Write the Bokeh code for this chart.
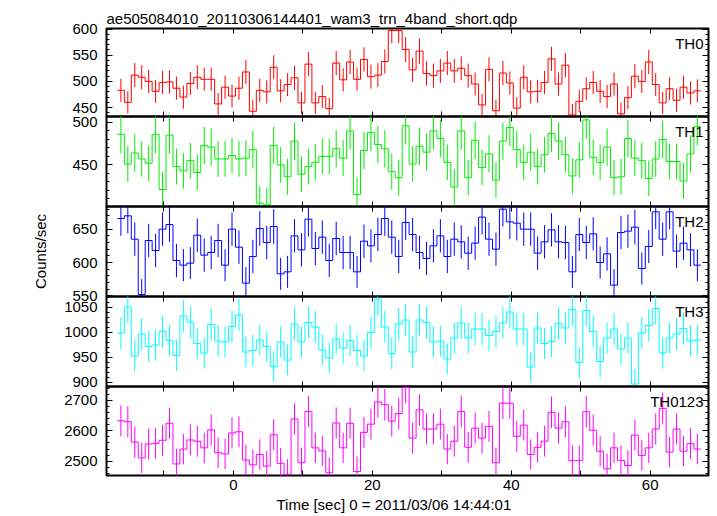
from bokeh.plotting import figure
from bokeh.models import LinearAxis, FixedTicker, Range1d, Label, Title
from bokeh.layouts import column
from bokeh.embed import file_html
from bokeh.resources import INLINE

# ---------------- data ----------------
title_text = "ae505084010_20110306144401_wam3_trn_4band_short.qdp"
x_label_text = "Time [sec] 0 = 2011/03/06 14:44:01"
y_label_text = "Counts/sec"

t_first = -16.2     # centre of first 1-s bin
bin_width = 1.0
n_bins = 84
time = [round(t_first + i * bin_width, 3) for i in range(n_bins)]

th0_rate = [483, 460, 512, 508, 500, 481, 498, 499, 487, 470,
            496, 508, 504, 504, 457, 489, 472, 487, 518, 443,
            483, 480, 527, 482, 494, 507, 459, 533, 459, 471,
            448, 535, 503, 537, 504, 542, 509, 512, 538, 597,
            597, 561, 522, 558, 515, 511, 520, 535, 520, 525,
            511, 495, 455, 523, 444, 516, 497, 449, 508, 480,
            481, 498, 543, 495, 531, 436, 462, 486, 498, 481,
            471, 495, 438, 469, 510, 500, 537, 494, 459, 486,
            464, 489, 478, 482]
th0_err = [22, 21, 23, 23, 22, 22, 22, 22, 22, 22,
           22, 23, 22, 22, 21, 22, 22, 22, 23, 21,
           22, 22, 23, 22, 22, 23, 21, 23, 21, 22,
           21, 23, 22, 23, 22, 23, 23, 23, 23, 24,
           24, 24, 23, 24, 23, 23, 23, 23, 23, 23,
           23, 22, 21, 23, 21, 23, 22, 21, 23, 22,
           22, 22, 23, 22, 23, 21, 21, 22, 22, 22,
           22, 22, 21, 22, 23, 22, 23, 22, 21, 22,
           22, 22, 22, 22]

th1_rate = [486, 451, 464, 457, 452, 486, 421, 485, 448, 443,
            455, 441, 473, 471, 457, 457, 461, 457, 458, 468,
            405, 403, 473, 450, 436, 478, 439, 448, 453, 460,
            460, 469, 458, 490, 415, 467, 488, 474, 469, 442,
            435, 496, 451, 472, 465, 490, 481, 453, 424, 490,
            435, 479, 447, 463, 432, 478, 494, 468, 453, 465,
            448, 462, 487, 478, 462, 437, 456, 503, 459, 453,
            471, 435, 436, 481, 458, 455, 434, 457, 480, 454,
            454, 431, 463, 495]
th1_err = [22, 21, 22, 21, 21, 22, 21, 22, 21, 21,
           21, 21, 22, 22, 21, 21, 21, 21, 21, 22,
           20, 20, 22, 21, 21, 22, 21, 21, 21, 21,
           21, 22, 21, 22, 20, 22, 22, 22, 22, 21,
           21, 22, 21, 22, 22, 22, 22, 21, 21, 22,
           21, 22, 21, 22, 21, 22, 22, 22, 21, 22,
           21, 21, 22, 22, 21, 21, 21, 22, 21, 21,
           22, 21, 21, 22, 21, 21, 21, 21, 22, 21,
           21, 21, 22, 22]

th2_rate = [666, 670, 635, 552, 633, 618, 650, 657, 603, 596,
            599, 641, 611, 615, 633, 596, 650, 623, 569, 609,
            651, 630, 654, 583, 586, 640, 619, 665, 621, 638,
            603, 636, 615, 615, 586, 632, 625, 642, 666, 638,
            609, 660, 642, 615, 606, 625, 640, 609, 635, 631,
            614, 629, 668, 635, 620, 680, 661, 659, 650, 650,
            614, 631, 649, 631, 630, 586, 642, 630, 643, 600,
            613, 566, 645, 647, 653, 591, 624, 676, 635, 676,
            617, 629, 619, 596]
th2_err = [26, 26, 25, 23, 25, 25, 25, 26, 25, 24,
           24, 25, 25, 25, 25, 24, 25, 25, 24, 25,
           26, 25, 26, 24, 24, 25, 25, 26, 25, 25,
           25, 25, 25, 25, 24, 25, 25, 25, 26, 25,
           25, 26, 25, 25, 25, 25, 25, 25, 25, 25,
           25, 25, 26, 25, 25, 26, 26, 26, 25, 25,
           25, 25, 25, 25, 25, 24, 25, 25, 25, 24,
           25, 24, 25, 25, 26, 24, 25, 26, 25, 26,
           25, 25, 25, 24]

th3_rate = [998, 1050, 952, 996, 971, 974, 1001, 983, 953, 1032,
            1020, 977, 958, 1015, 982, 980, 1011, 1034, 960, 963,
            984, 971, 931, 980, 944, 1016, 980, 1019, 1010, 964,
            948, 986, 968, 983, 963, 952, 999, 1066, 1010, 957,
            1016, 1024, 960, 1024, 1019, 980, 982, 946, 988, 1018,
            988, 1006, 1006, 993, 1001, 1018, 1040, 1006, 1006, 930,
            1008, 977, 981, 1017, 1008, 1045, 939, 1043, 1001, 941,
            988, 1006, 966, 988, 896, 998, 1013, 1047, 958, 988,
            996, 1007, 982, 984]
th3_err = [32, 32, 31, 32, 31, 31, 32, 31, 31, 32,
           32, 31, 31, 32, 31, 31, 32, 32, 31, 31,
           31, 31, 31, 31, 31, 32, 31, 32, 32, 31,
           31, 31, 31, 31, 31, 31, 32, 33, 32, 31,
           32, 32, 31, 32, 32, 31, 31, 31, 31, 32,
           31, 32, 32, 32, 32, 32, 32, 32, 32, 30,
           32, 31, 31, 32, 32, 32, 31, 32, 32, 31,
           31, 32, 31, 31, 30, 32, 32, 32, 31, 31,
           32, 32, 31, 31]

th0123_rate = [2633, 2630, 2563, 2511, 2557, 2559, 2569, 2625, 2491, 2540,
               2570, 2566, 2544, 2603, 2528, 2524, 2593, 2597, 2504, 2488,
               2522, 2484, 2587, 2493, 2457, 2639, 2495, 2664, 2544, 2534,
               2462, 2626, 2544, 2625, 2466, 2595, 2622, 2695, 2686, 2632,
               2657, 2743, 2576, 2669, 2606, 2606, 2622, 2540, 2566, 2664,
               2546, 2609, 2576, 2615, 2495, 2691, 2691, 2582, 2619, 2522,
               2546, 2566, 2661, 2609, 2630, 2502, 2502, 2663, 2602, 2533,
               2475, 2544, 2502, 2486, 2586, 2519, 2544, 2606, 2674, 2530,
               2606, 2533, 2558, 2540]
th0123_err = [51, 51, 51, 50, 51, 51, 51, 51, 50, 50,
              51, 51, 50, 51, 50, 50, 51, 51, 50, 50,
              50, 50, 51, 50, 50, 51, 50, 52, 50, 50,
              50, 51, 50, 51, 50, 51, 51, 52, 52, 51,
              52, 52, 51, 52, 51, 51, 51, 50, 51, 52,
              50, 51, 51, 51, 50, 52, 52, 51, 51, 50,
              50, 51, 52, 51, 51, 50, 50, 52, 51, 50,
              50, 50, 50, 50, 51, 50, 50, 51, 52, 50,
              51, 50, 51, 50]

panel_names = ["TH0", "TH1", "TH2", "TH3", "TH0123"]
panel_colors = ["#ff0000", "#00ee00", "#0000ff", "#00ffff", "#ff00ff"]
panel_rates = [th0_rate, th1_rate, th2_rate, th3_rate, th0123_rate]
panel_errs = [th0_err, th1_err, th2_err, th3_err, th0123_err]
panel_yranges = [(433, 601), (401, 507), (549, 684), (891, 1071), (2453, 2746)]
panel_major = [[450, 500, 550, 600], [450, 500], [550, 600, 650],
               [900, 950, 1000, 1050], [2500, 2600, 2700]]
panel_minor = [list(range(440, 601, 10)), list(range(410, 510, 10)),
               list(range(550, 690, 10)), list(range(900, 1080, 10)),
               list(range(2460, 2746, 20))]

x_range = (-18.27, 68.4)
x_ticks = [-10, 0, 10, 20, 30, 40, 50, 60]
x_tick_labels = {-10: "", 10: "", 30: "", 50: ""}

# ---------------- layout ----------------
FONT = "Liberation Sans"
FS = "15px"
frame_w = 602
frame_hs = [88, 90, 90, 90, 89]
left_border = 106
EXTRA = 10          # room above/below each frame for tick labels at the edges


def style_axis(ax, ticker, show_labels, tick_in, minor_in, standoff=9):
    ax.ticker = ticker
    ax.major_tick_in = tick_in
    ax.major_tick_out = 0
    ax.minor_tick_in = minor_in
    ax.minor_tick_out = 0
    ax.axis_line_color = None
    ax.major_tick_line_color = "black"
    ax.minor_tick_line_color = "black"
    ax.major_label_text_font = FONT
    ax.major_label_text_color = "black"
    if show_labels:
        ax.major_label_text_font_size = FS
        ax.major_label_standoff = standoff
    else:
        ax.major_label_text_font_size = "0px"
        ax.major_label_standoff = 0


figs = []
n = len(panel_names)
for i in range(n):
    first = i == 0
    last = i == n - 1
    lo, hi = panel_yranges[i]
    p = figure(frame_width=frame_w, frame_height=frame_hs[i],
               x_range=Range1d(*x_range), y_range=Range1d(lo, hi),
               output_backend="svg", toolbar_location=None,
               x_axis_location="below", y_axis_location="left",
               min_border_left=left_border, min_border_right=2,
               min_border_top=28 if first else EXTRA,
               min_border_bottom=41 if last else EXTRA,
               margin=(0 if first else -2 * EXTRA, 0, 0, 0))
    p.xgrid.visible = False
    p.ygrid.visible = False
    p.outline_line_color = "black"
    p.outline_line_width = 2
    p.background_fill_alpha = 0
    p.border_fill_alpha = 0

    xt = FixedTicker(ticks=x_ticks, minor_ticks=[])
    yt = FixedTicker(ticks=panel_major[i], minor_ticks=panel_minor[i])

    bx = p.xaxis[0]
    style_axis(bx, xt, last, 5, 0, standoff=4)
    bx.major_label_overrides = x_tick_labels
    ly = p.yaxis[0]
    style_axis(ly, yt, True, 6, 3, standoff=9)
    if i == 2:
        ly.axis_label = y_label_text
        ly.axis_label_text_font = FONT
        ly.axis_label_text_font_size = FS
        ly.axis_label_text_font_style = "normal"
        ly.axis_label_text_color = "black"
        ly.axis_label_standoff = 20

    tx = LinearAxis()
    style_axis(tx, FixedTicker(ticks=x_ticks, minor_ticks=[]), False, 5, 0)
    p.add_layout(tx, "above")
    ry = LinearAxis()
    style_axis(ry, FixedTicker(ticks=panel_major[i], minor_ticks=panel_minor[i]),
               False, 6, 3)
    p.add_layout(ry, "right")

    if first:
        p.title.text = title_text
        p.title.align = "left"
        p.title.text_font = FONT
        p.title.text_font_size = FS
        p.title.text_font_style = "normal"
        p.title.text_color = "black"
        p.title.standoff = 4
    if last:
        xlab = Title(text=x_label_text, align="left", offset=170,
                     vertical_align="bottom", standoff=2,
                     text_font=FONT, text_font_size=FS,
                     text_font_style="normal", text_color="black")
        p.add_layout(xlab, "below")

    rate = panel_rates[i]
    err = panel_errs[i]
    color = panel_colors[i]
    edges = [t - bin_width / 2 for t in time] + [time[-1] + bin_width / 2]
    step_y = rate + [rate[-1]]
    p.step(edges, step_y, mode="after", line_color=color, line_width=1)
    p.segment(x0=time, y0=[r - e for r, e in zip(rate, err)],
              x1=time, y1=[r + e for r, e in zip(rate, err)],
              line_color=color, line_width=1)

    p.add_layout(Label(x=x_range[1], y=hi, text=panel_names[i],
                       x_offset=-5, y_offset=-15,
                       text_align="right", text_baseline="alphabetic",
                       text_font=FONT, text_font_size=FS, text_color="black"))
    figs.append(p)

layout = column(*figs, spacing=0)
open("out.html", "w").write(file_html(layout, INLINE))
